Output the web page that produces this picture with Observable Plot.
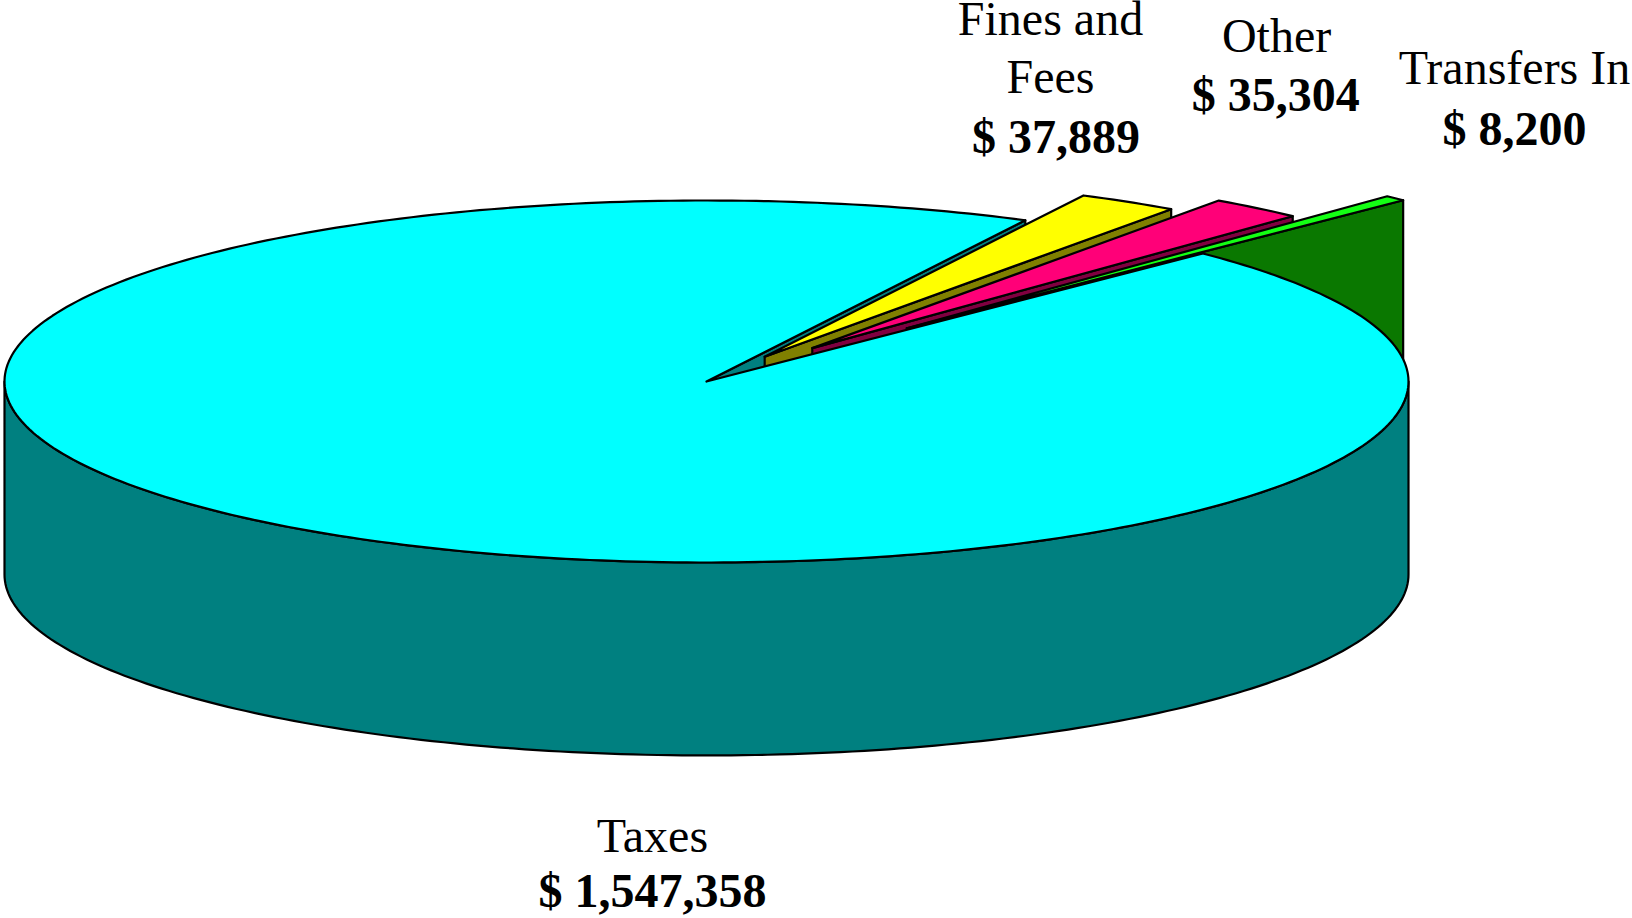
<!DOCTYPE html>
<html>
<head>
<meta charset="utf-8">
<style>html,body{margin:0;padding:0;background:#fff}svg{display:block}</style>
<script src="https://cdn.jsdelivr.net/npm/d3@7"></script>
<script src="https://cdn.jsdelivr.net/npm/@observablehq/plot@0.6"></script>
</head>
<body>
<div id="chart"></div>
<script>
// Data
const categories = ["Transfers In", "Other", "Fines and Fees", "Taxes"];
const amounts = [8200, 35304, 37889, 1547358];

// Presentation of each slice (same order as categories)
const explode = [0.41, 0.238, 0.16, 0];
const topColors = ["#14ff14", "#ff0078", "#ffff00", "#00ffff"];
const sideColors = ["#0a7800", "#800040", "#808000", "#008080"];

// Label lines, placed in pie units (1 = pie radius)
const nameLines = ["Fines and", "Fees", "Other", "Transfers In", "Taxes"];
const nameX = [0.490, 0.490, 0.812, 1.151, -0.077];
const nameY = [1.912, 1.592, 1.818, 1.646, -2.597];
const valueX = [1.151, 0.811, 0.498, -0.077];
const valueY = [1.309, 1.497, 1.260, -2.906];

const startAngle = 45;       // degrees, where the first slice begins
const depth = 1.066;         // height of the disc, in pie units

const total = d3.sum(amounts);
let acc = startAngle;
const slices = categories.map((name, i) => {
  const a0 = acc;
  const a1 = acc + amounts[i] / total * 360;
  acc = a1;
  const mid = (a0 + a1) / 2 * Math.PI / 180;
  return {name, a0, a1, ox: explode[i] * Math.cos(mid), oy: explode[i] * Math.sin(mid),
          top: topColors[i], side: sideColors[i]};
});

const rim = (s, deg, drop = 0) => {
  const r = deg * Math.PI / 180;
  return {x: s.ox + Math.cos(r), y: s.oy + Math.sin(r) - drop};
};
const apex = (s, drop = 0) => ({x: s.ox, y: s.oy - drop});
const arc = (s, from, to, drop = 0) => {
  const n = Math.max(2, Math.ceil(Math.abs(to - from)));
  return d3.range(n + 1).map(i => rim(s, from + (to - from) * i / n, drop));
};
const closed = pts => [...pts, pts[0]];

const poly = (pts, fill) => Plot.line(closed(pts), {
  x: "x", y: "y", fill, stroke: "#000", strokeWidth: 2.2,
  strokeLinejoin: "round", curve: "linear"
});

const wedgeTop = s => poly([apex(s), ...arc(s, s.a0, s.a1)], s.top);
const cutFace = (s, deg) => poly([apex(s), rim(s, deg), rim(s, deg, depth), apex(s, depth)], s.side);

const [transfers, other, fines, taxes] = slices;

const marks = [
  // face of the large slice seen through the gap
  cutFace(taxes, taxes.a0),
  // exploded slices, back to front
  ...[fines, other, transfers].flatMap(s => [cutFace(s, s.a0), wedgeTop(s)]),
  // front wall and top of the large slice
  poly([...arc(taxes, 180, 360), ...arc(taxes, 360, 180, depth)], taxes.side),
  wedgeTop(taxes),
  // labels
  Plot.text(nameLines, {
    text: d => d, x: (d, i) => nameX[i], y: (d, i) => nameY[i],
    fontFamily: "Liberation Serif", fontSize: 48, fill: "#000",
    textAnchor: "middle", lineAnchor: "bottom"
  }),
  Plot.text(amounts, {
    text: d => "$ " + d3.format(",")(d), x: (d, i) => valueX[i], y: (d, i) => valueY[i],
    fontFamily: "Liberation Serif", fontWeight: "bold", fontSize: 48, fill: "#000",
    textAnchor: "middle", lineAnchor: "bottom"
  })
];

const chart = Plot.plot({
  width: 1632, height: 918,
  margin: 0,
  style: {background: "#fff", overflow: "visible"},
  x: {axis: null, domain: [-706 / 702, (1632 - 706) / 702], range: [0, 1632]},
  y: {axis: null, domain: [(381 - 918) / 181, 381 / 181], range: [918, 0]},
  marks
});
document.getElementById("chart").append(chart);
</script>
</body>
</html>
